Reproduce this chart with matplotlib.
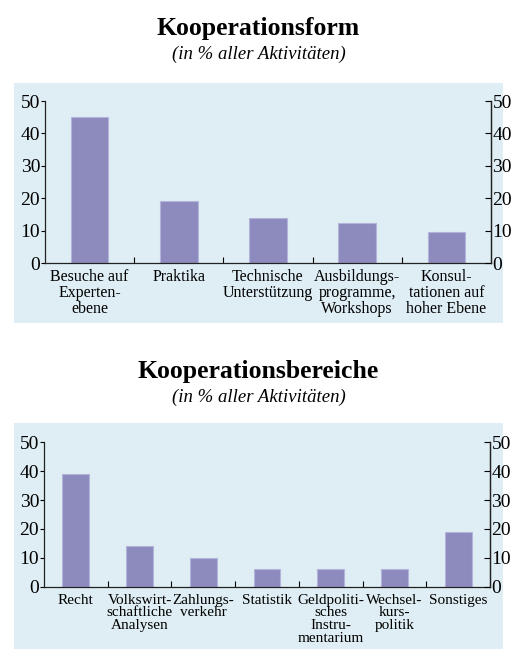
import matplotlib
matplotlib.use("Agg")
import matplotlib.pyplot as plt
from matplotlib.patches import Rectangle
from matplotlib.ticker import FixedLocator

# Kooperationsform (in % aller Aktivitäten)
form_labels = [
    "Besuche auf\nExperten-\nebene",
    "Praktika",
    "Technische\nUnterstützung",
    "Ausbildungs-\nprogramme,\nWorkshops",
    "Konsul-\ntationen auf\nhoher Ebene",
]
form_values = [45, 19, 14, 12.5, 9.5]

# Kooperationsbereiche (in % aller Aktivitäten)
bereich_labels = [
    "Recht",
    "Volkswirt-\nschaftliche\nAnalysen",
    "Zahlungs-\nverkehr",
    "Statistik",
    "Geldpoliti-\nsches\nInstru-\nmentarium",
    "Wechsel-\nkurs-\npolitik",
    "Sonstiges",
]
bereich_values = [39, 14, 10, 6, 6, 6, 19]

yticks = [0, 10, 20, 30, 40, 50]

BAR = "#8d8bbe"
EDGE = "#b4b3dc"
BG = "#dfeef4"
SERIF = ["Liberation Serif", "DejaVu Serif"]

plt.rcParams["font.family"] = SERIF

W, H = 517, 658
fig = plt.figure(figsize=(W / 100, H / 100), dpi=100)


def px_box(x0, y0, x1, y1):
    # pixel coords (top-left origin) -> figure fraction rect
    return [x0 / W, 1 - y1 / H, (x1 - x0) / W, (y1 - y0) / H]


def panel(rect_px, box_px, labels, values, label_pad, label_size):
    l, b, w, h = px_box(*box_px)
    fig.add_artist(Rectangle((l, b), w, h, transform=fig.transFigure,
                             facecolor=BG, edgecolor="none", zorder=-5))
    ax = fig.add_axes(px_box(*rect_px))
    ax.set_facecolor("none")
    n = len(values)
    xs = list(range(n))
    ax.bar(xs, values, width=0.42, color=BAR, edgecolor=EDGE, linewidth=0.8, zorder=2)
    ax.set_xlim(-0.5, n - 0.5)
    ax.set_ylim(0, 50)
    ax.set_yticks(yticks)
    ax.set_xticks(xs)
    ax.set_xticklabels(labels, fontsize=label_size, linespacing=0.98)
    ax.xaxis.set_minor_locator(FixedLocator([i + 0.5 for i in range(n - 1)]))
    ax.tick_params(axis="x", which="major", length=0, pad=label_pad)
    ax.tick_params(axis="x", which="minor", direction="in", length=4, width=0.8)
    ax.tick_params(axis="y", direction="out", length=3, width=0.8, pad=0.5,
                   labelsize=14)
    for s in ("left", "bottom", "right"):
        ax.spines[s].set_linewidth(0.9)
        ax.spines[s].set_color("#222222")
    ax.spines["top"].set_visible(False)

    ax2 = ax.twinx()
    ax2.set_facecolor("none")
    ax2.set_ylim(0, 50)
    ax2.set_yticks(yticks)
    ax2.tick_params(axis="y", direction="in", length=4, width=0.8, pad=1,
                    labelsize=14)
    for s in ("left", "top", "bottom"):
        ax2.spines[s].set_visible(False)
    ax2.spines["right"].set_linewidth(0.9)
    ax2.spines["right"].set_color("#222222")
    return ax


def titles(y_title, y_sub, title):
    fig.text(0.5, 1 - y_title / H, title, ha="center", va="baseline",
             fontsize=18.5, fontweight="bold")
    fig.text(0.5, 1 - y_sub / H, "(in % aller Aktivitäten)", ha="center",
             va="baseline", fontsize=13.5, style="italic")


titles(35, 59, "Kooperationsform")
panel((45, 101, 491, 263), (14, 83, 503, 323), form_labels, form_values, 4.5, 11.5)

titles(378, 402, "Kooperationsbereiche")
panel((44, 442.3, 490, 586.7), (14, 423, 503, 649), bereich_labels, bereich_values, 5, 11)

fig.savefig("out.png", dpi=100)
